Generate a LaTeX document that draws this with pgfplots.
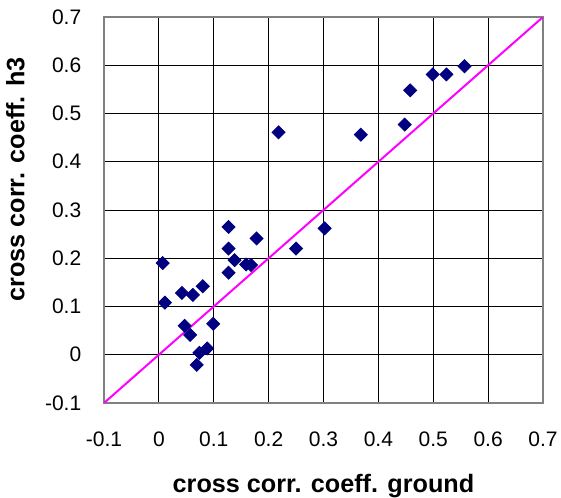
\documentclass[border=0pt]{standalone}
\usepackage{fontspec}
\setmainfont{Liberation Sans}
\usepackage{pgfplots}
\pgfplotsset{compat=1.18}
\definecolor{navy}{RGB}{0,0,128}
\definecolor{bordergray}{RGB}{128,128,128}
\definecolor{fuchsia}{RGB}{255,0,255}
\begin{document}
\begin{tikzpicture}
\useasboundingbox (-52pt,-47pt) rectangle (228.5pt,201.5pt);
\begin{axis}[
  at={(0,0)}, anchor=south west,
  scale only axis, width=219.5pt, height=193pt,
  xmin=-0.1, xmax=0.7, ymin=-0.1, ymax=0.7,
  xtick={-0.1,0,0.1,0.2,0.3,0.4,0.5,0.6,0.7},
  ytick={-0.1,0,0.1,0.2,0.3,0.4,0.5,0.6,0.7},
  /pgf/number format/assume math mode=true,
  /pgf/number format/fixed,
  /pgf/number format/precision=1,
  tick label style={font=\fontsize{10.5}{12}\selectfont, inner sep=0pt},
  xticklabel style={anchor=base, yshift=-21.8pt},
  yticklabel style={anchor=east, xshift=-11.2pt},
  major tick length=0pt,
  grid=major,
  major grid style={black, line width=0.5pt},
  axis line style={bordergray, line width=1pt},
  xlabel={cross corr. coeff. ground},
  ylabel={cross corr. coeff. h3},
  label style={font=\fontsize{12.6}{14}\selectfont\bfseries, inner sep=0pt},
  xlabel style={at={(axis description cs:0.5,-0.2321)}, anchor=base},
  ylabel style={at={(axis description cs:-0.1811,0.5791)}, anchor=base},
  clip=true,
]
\addplot[fuchsia, line width=1pt] coordinates {(-0.1,-0.1) (0.7,0.7)};
\addplot[only marks, mark=square*, mark size=2.3pt, mark options={rotate=45, fill=navy, draw=navy}] coordinates {
(0.007,0.190)
(0.011,0.108)
(0.042,0.128)
(0.062,0.124)
(0.080,0.142)
(0.047,0.060)
(0.057,0.041)
(0.099,0.064)
(0.088,0.013)
(0.074,0.004)
(0.069,-0.021)
(0.127,0.265)
(0.127,0.220)
(0.138,0.196)
(0.127,0.170)
(0.159,0.187)
(0.168,0.186)
(0.178,0.241)
(0.250,0.220)
(0.302,0.262)
(0.218,0.461)
(0.368,0.456)
(0.448,0.477)
(0.458,0.548)
(0.499,0.581)
(0.524,0.581)
(0.557,0.598)
};
\end{axis}
\end{tikzpicture}
\end{document}
